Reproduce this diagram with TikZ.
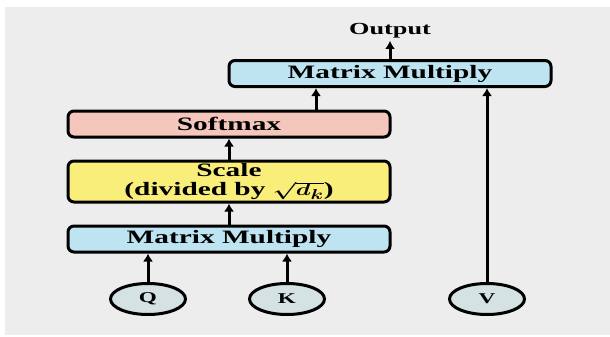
\documentclass[tikz,border=0pt]{standalone}
\usepackage{fontspec}
\usepackage{graphicx}
\newfontfamily\diagfont[FakeStretch=1.55]{Liberation Serif}
\usetikzlibrary{calc,backgrounds,arrows.meta,shapes.geometric}
\definecolor{mmblue}{RGB}{190,228,242}
\definecolor{smpink}{RGB}{244,198,188}
\definecolor{scyellow}{RGB}{250,238,122}
\definecolor{ingray}{RGB}{212,226,228}
\definecolor{bggray}{RGB}{237,237,237}
\tikzstyle{attn}=[
  >={Latex[length=8bp,width=10bp]}, line width=3bp, font=\diagfont\bfseries
]
\tikzstyle{block}=[
  draw,rounded corners=6bp,inner sep=0pt,minimum width=322bp,minimum height=26bp,
  align=center,font=\diagfont\bfseries\fontsize{19}{20}\selectfont
]
\tikzstyle{mmblock}=[block,fill=mmblue]
\tikzstyle{smblock}=[block,fill=smpink]
\tikzstyle{scblock}=[block,fill=scyellow,minimum height=41bp]
\tikzstyle{inputnode}=[
  draw,ellipse,fill=ingray,inner sep=0pt,minimum width=75bp,minimum height=31bp,
  font=\diagfont\bfseries\fontsize{15}{16}\selectfont
]
\tikzstyle{flow}=[->]

\begin{document}
\begin{tikzpicture}[attn]
    \useasboundingbox (0bp,0bp) rectangle (610bp,-337bp);
    \node (mmbot) at (229bp,-239bp) [mmblock] {Matrix Multiply};
    \node (scale) at ($(mmbot) + (0, 57.5bp)$) [scblock]
      {Scale\\(divided by \scalebox{1.4}[1]{\boldmath$\sqrt{d_k}$})};
    \node (softmax) at ($(scale) + (0, 57.5bp)$) [smblock] {Softmax};
    \node (mmtop) at ($(softmax) + (161bp, 50.5bp)$) [mmblock] {Matrix Multiply};
    \node (output) at ($(mmtop) + (0, 42.5bp)$)
      [font=\diagfont\bfseries\fontsize{17}{18}\selectfont, inner sep=1bp] {Output};
    \node (q) at (148bp,-299bp) [inputnode] {Q};
    \node (k) at ($(q) + (139bp, 0)$) [inputnode] {K};
    \node (v) at ($(k) + (200bp, 0)$) [inputnode] {V};
    \coordinate (smout) at ($(softmax.north) + (87bp, 0)$);
    \draw [flow] (q) -- (q |- mmbot.south);
    \draw [flow] (k) -- (k |- mmbot.south);
    \draw [flow] (mmbot) -- (scale);
    \draw [flow] (scale) -- (softmax);
    \draw [flow] (smout) -- (smout |- mmtop.south);
    \draw [flow] (v) -- (v |- mmtop.south);
    \draw [flow] (mmtop) -- (output);
    \begin{scope}[on background layer]
      \fill [bggray] (5bp,-7bp) rectangle (610bp,-335bp);
    \end{scope}
  \end{tikzpicture}
\end{document}
